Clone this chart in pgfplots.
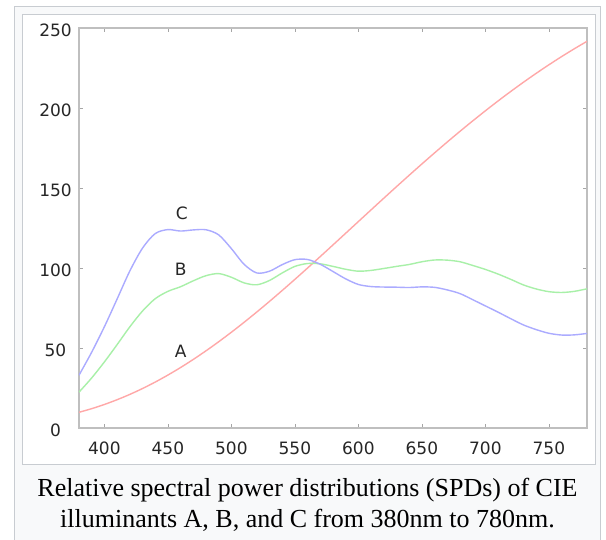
\documentclass[border=0pt]{standalone}
\usepackage{pgfplots}
\pgfplotsset{compat=1.18}
\usepackage{fontspec}
\setmainfont{DejaVu Sans}
\newfontfamily\capfont{Liberation Serif}

\definecolor{frameline}{HTML}{C8CCD1}
\definecolor{framebg}{HTML}{F8F9FA}
\definecolor{spdA}{HTML}{FFA8A8}
\definecolor{spdB}{HTML}{A8F0A8}
\definecolor{spdC}{HTML}{ABABFF}

% CIE relative SPDs, 10 nm steps
\pgfplotstableread{
nm   A       B       C
380  9.80    22.40   33.00
390  12.09   31.30   47.40
400  14.71   41.30   63.30
410  17.68   52.10   80.60
420  20.99   63.20   98.10
430  24.67   73.10   112.40
440  28.70   80.80   121.50
450  33.09   85.40   124.00
460  37.81   88.30   123.10
470  42.87   92.00   123.80
480  48.24   95.20   123.90
490  53.91   96.50   120.70
500  59.86   94.20   112.10
510  66.06   90.70   102.30
520  72.50   89.50   96.90
530  79.13   92.20   98.00
540  85.95   96.90   102.10
550  92.91   101.00  105.20
560  100.00  102.80  105.30
570  107.18  102.60  102.30
580  114.44  101.00  97.80
590  121.73  99.20   93.20
600  129.04  98.00   89.70
610  136.35  98.50   88.40
620  143.62  99.70   88.10
630  150.84  101.00  88.00
640  157.98  102.20  87.80
650  165.03  103.90  88.20
660  171.96  105.00  87.90
670  178.77  104.90  86.30
680  185.43  103.90  84.00
690  191.93  101.60  80.20
700  198.26  99.10   76.30
710  204.41  96.20   72.40
720  210.36  92.90   68.30
730  216.12  89.40   64.40
740  221.67  86.90   61.50
750  227.00  85.20   59.20
760  232.12  84.70   58.10
770  237.01  85.40   58.20
780  241.68  87.00   59.10
}\spd

\begin{document}
\begin{tikzpicture}
\useasboundingbox (0bp,0bp) rectangle (606bp,540bp);
\begin{scope}
\clip (0bp,0bp) rectangle (606bp,540bp);
% wiki thumbnail frame
\draw[frameline, fill=framebg, line width=1bp] (14bp,-5bp) rectangle (600bp,533bp);
\draw[frameline, fill=white, line width=1bp] (22bp,75bp) rectangle (595.5bp,525bp);
\end{scope}

\begin{axis}[
  at={(79bp,112bp)}, anchor=south west,
  scale only axis, width=508bp, height=400bp,
  xmin=380, xmax=780, ymin=0, ymax=250,
  xtick={400,450,...,750}, ytick={0,50,...,250},
  tick align=inside, major tick length=4bp,
  tick style={draw=black!35, line width=0.8bp},
  axis line style={draw=black!25, line width=1.6bp},
  /pgf/number format/assume math mode=true,
  ticklabel style={font=\fontsize{17bp}{20bp}\selectfont, text=black!85},
  xticklabel style={anchor=center, yshift=-20bp},
  yticklabel style={anchor=center, xshift=-23.5bp, yshift=-2bp},
  clip mode=individual,
]
\addplot[spdA, line width=1.4bp, smooth] table[x=nm, y=A] {\spd};
\addplot[spdB, line width=1.4bp, smooth] table[x=nm, y=B] {\spd};
\addplot[spdC, line width=1.4bp, smooth] table[x=nm, y=C] {\spd};
\node[font=\fontsize{17bp}{20bp}\selectfont, text=black!85] at (axis cs:460,48) {A};
\node[font=\fontsize{17bp}{20bp}\selectfont, text=black!85] at (axis cs:460,99) {B};
\node[font=\fontsize{17bp}{20bp}\selectfont, text=black!85] at (axis cs:461,134) {C};
\end{axis}

\node[anchor=base, inner sep=0pt, font=\capfont\fontsize{26bp}{30bp}\selectfont]
  at (307.5bp,43bp) {Relative spectral power distributions (SPDs) of CIE};
\node[anchor=base, inner sep=0pt, font=\capfont\fontsize{26bp}{30bp}\selectfont]
  at (307.5bp,13bp) {illuminants A, B, and C from 380nm to 780nm.};
\end{tikzpicture}
\end{document}
